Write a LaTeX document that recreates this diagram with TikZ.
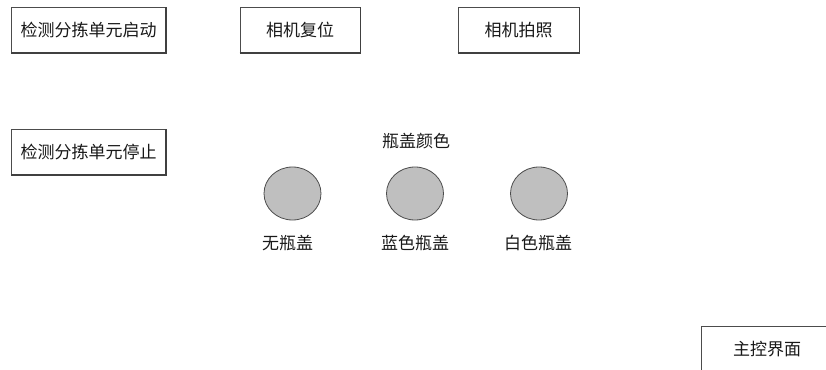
\documentclass[tikz,border=0pt]{standalone}
\usepackage{fontspec}
\newfontfamily\cjk{Noto Sans CJK SC}
\usepackage{tikz}
\usetikzlibrary{shapes.geometric , positioning}

\tikzset{
    btn/.style = {draw = gray!60!black , line width = 0.8pt , fill = white , minimum height = 45pt , inner sep = 0pt , font = \cjk\fontsize{17}{19}\selectfont , text = black!90},
    btnshade/.style = {draw = black!75 , line width = 1.6pt},
    lamp/.style = {ellipse , draw = black!70 , line width = 0.8pt , fill = gray!50 , minimum width = 57pt , minimum height = 53pt , inner sep = 0pt},
    lbl/.style = {font = \cjk\fontsize{17}{19}\selectfont , text = black!90 , inner sep = 0pt}
}

\begin{document}
\begin{tikzpicture}[x = 1pt , y = -1pt]
    \useasboundingbox (0,0) rectangle (826,369);
    % Knöpfe
    \node[btn , minimum width = 154pt] (start) at (88.7,30) {检测分拣单元启动};
    \node[btn , minimum width = 120pt] (reset) at (300,30) {相机复位};
    \node[btn , minimum width = 121pt] (shot) at (518.5,30) {相机拍照};
    \node[btn , minimum width = 154pt] (stop) at (88.7,152) {检测分拣单元停止};
    \node[btn , minimum width = 132pt] (main) at (767,349) {主控界面};
    \foreach \b in {start,reset,shot,stop,main}
        \draw[btnshade] (\b.south west) -- (\b.south east) -- (\b.north east);
    % Anzeige
    \node[lbl] (title) at (416,141.5) {瓶盖颜色};
    \node[lamp] (none) at (292.5,193.5) {};
    \node[lamp] (blue) at (415,193.5) {};
    \node[lamp] (white) at (539,193.5) {};
    \node[lbl] at (287.5,243.5) {无瓶盖}; % Etikett
    \node[lbl] at (415,243.5) {蓝色瓶盖}; % Etikett
    \node[lbl] at (538,243.5) {白色瓶盖}; % Etikett
\end{tikzpicture}
\end{document}
